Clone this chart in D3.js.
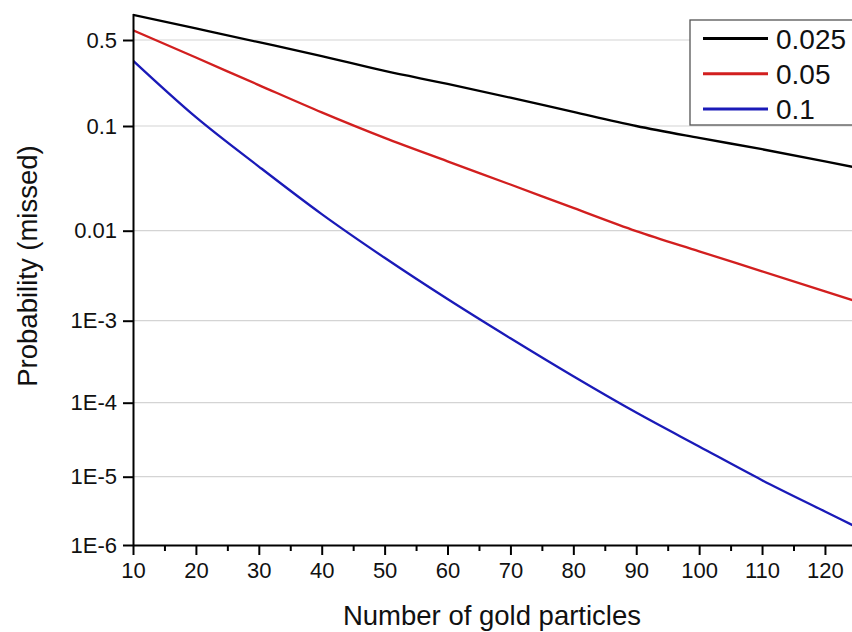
<!DOCTYPE html>
<html>
<head>
<meta charset="utf-8">
<script src="https://cdn.jsdelivr.net/npm/d3@7"></script>
<style>
  body { margin: 0; background: #fff; }
  text { font-family: "Liberation Sans", Arial, sans-serif; fill: #111; }
</style>
</head>
<body>
<div id="chart"></div>
<script>
// data
const particles = [10, 20, 30, 40, 50, 60, 70, 80, 90, 100, 110, 120, 125];
const p0025 = [0.80, 0.62, 0.48, 0.37, 0.28, 0.22, 0.17, 0.13, 0.10, 0.077, 0.060, 0.046, 0.040];
const p005  = [0.60, 0.36, 0.215, 0.129, 0.077, 0.046, 0.0276, 0.0165, 0.0099, 0.0059, 0.00354, 0.00212, 0.00164];
const p01   = [0.34, 0.118, 0.041, 0.0144, 0.0050, 0.00174, 6.1e-4, 2.1e-4, 7.35e-5, 2.56e-5, 8.9e-6, 3.1e-6, 1.83e-6];

const seriesNames  = ["0.025", "0.05", "0.1"];
const seriesValues = [p0025, p005, p01];
const seriesColors = ["#000000", "#d21f1f", "#1a1ab8"];

const xTicks = [10, 20, 30, 40, 50, 60, 70, 80, 90, 100, 110, 120];
const xMinor = [15, 25, 35, 45, 55, 65, 75, 85, 95, 105, 115];
const yTicks = [0.5, 0.1, 0.01, 1e-3, 1e-4, 1e-5, 1e-6];
const yTickLabels = ["0.5", "0.1", "0.01", "1E-3", "1E-4", "1E-5", "1E-6"];

// set the dimensions and margins of the graph
const margin = {top: 13.5, right: 0, bottom: 87, left: 133};
const width = 852 - margin.left - margin.right;
const height = 632 - margin.top - margin.bottom;

const svg = d3.select("#chart")
  .append("svg")
    .attr("width", 852)
    .attr("height", 632)
  .append("g")
    .attr("transform", `translate(${margin.left}, ${margin.top})`);

// X scale (plot is cut at the right edge)
const xScale = d3.scaleLinear()
  .domain([10, 124.3])
  .range([0, width]);

// Y scale: the decades are not evenly spaced in the original, so piecewise log
const yScale = d3.scaleLog()
  .domain([1e-6, 1e-5, 1e-4, 1e-3, 0.01, 0.1, 0.5, 0.82])
  .range([height, height - 68.3, height - 142.3, height - 224.3, height - 314.3, height - 419, height - 505, 0]);

// horizontal grid lines
svg.append("g")
  .selectAll("line")
  .data(yTicks.slice(0, -1))
  .join("line")
    .attr("x1", 0)
    .attr("x2", width)
    .attr("y1", d => yScale(d))
    .attr("y2", d => yScale(d))
    .style("stroke", "#d4d4d4")
    .style("stroke-width", 1.2);

// lines
svg.append("clipPath")
    .attr("id", "clip")
  .append("rect")
    .attr("x", 0)
    .attr("y", -margin.top)
    .attr("width", width)
    .attr("height", height + margin.top);

const line = d3.line()
  .x((d, i) => xScale(particles[i]))
  .y(d => yScale(d))
  .curve(d3.curveMonotoneX);

svg.append("g")
    .attr("clip-path", "url(#clip)")
  .selectAll("path")
  .data(seriesValues)
  .join("path")
    .attr("d", d => line(d))
    .style("fill", "none")
    .style("stroke", (d, i) => seriesColors[i])
    .style("stroke-width", 2.3);

// X axis, major + minor ticks
svg.append("g")
    .attr("class", "x-axis")
    .attr("transform", `translate(0, ${height})`)
  .call(d3.axisBottom(xScale)
    .tickValues(xTicks)
    .tickSize(10)
    .tickSizeOuter(0)
    .tickPadding(7));

svg.append("g")
    .attr("transform", `translate(0, ${height})`)
  .call(d3.axisBottom(xScale)
    .tickValues(xMinor)
    .tickSize(6)
    .tickFormat(""))
  .call(g => g.select(".domain").remove());

// Y axis
svg.append("g")
    .attr("class", "y-axis")
  .call(d3.axisLeft(yScale)
    .tickValues(yTicks)
    .tickFormat((d, i) => yTickLabels[i])
    .tickSize(10)
    .tickSizeOuter(0)
    .tickPadding(6));

svg.selectAll(".tick line, .domain")
    .style("stroke", "#000")
    .style("stroke-width", 2);
svg.selectAll(".tick text")
    .style("font-size", "22px")
    .style("fill", "#111");

// legend
const legend = svg.append("g")
    .attr("transform", `translate(${557}, ${6.5})`);

legend.append("rect")
    .attr("x", 0)
    .attr("y", 0)
    .attr("width", 175)
    .attr("height", 105)
    .style("fill", "#fff")
    .style("stroke", "#555")
    .style("stroke-width", 1.3);

seriesNames.forEach((name, i) => {
  const yy = 18.5 + i * 35.3;
  legend.append("line")
      .attr("x1", 13)
      .attr("x2", 78)
      .attr("y1", yy)
      .attr("y2", yy)
      .style("stroke", seriesColors[i])
      .style("stroke-width", 3);
  legend.append("text")
      .attr("x", 86)
      .attr("y", yy)
      .attr("dy", "0.36em")
      .style("font-size", "28px")
    .text(name);
});

// X axis label
svg.append("text")
    .attr("x", 492 - margin.left)
    .attr("y", height + 80)
    .attr("text-anchor", "middle")
    .style("font-size", "27.5px")
  .text("Number of gold particles");

// Y axis label
svg.append("text")
    .attr("transform", "rotate(-90)")
    .attr("x", -(266 - margin.top))
    .attr("y", -margin.left + 37)
    .attr("text-anchor", "middle")
    .style("font-size", "27.5px")
  .text("Probability (missed)");
</script>
</body>
</html>
